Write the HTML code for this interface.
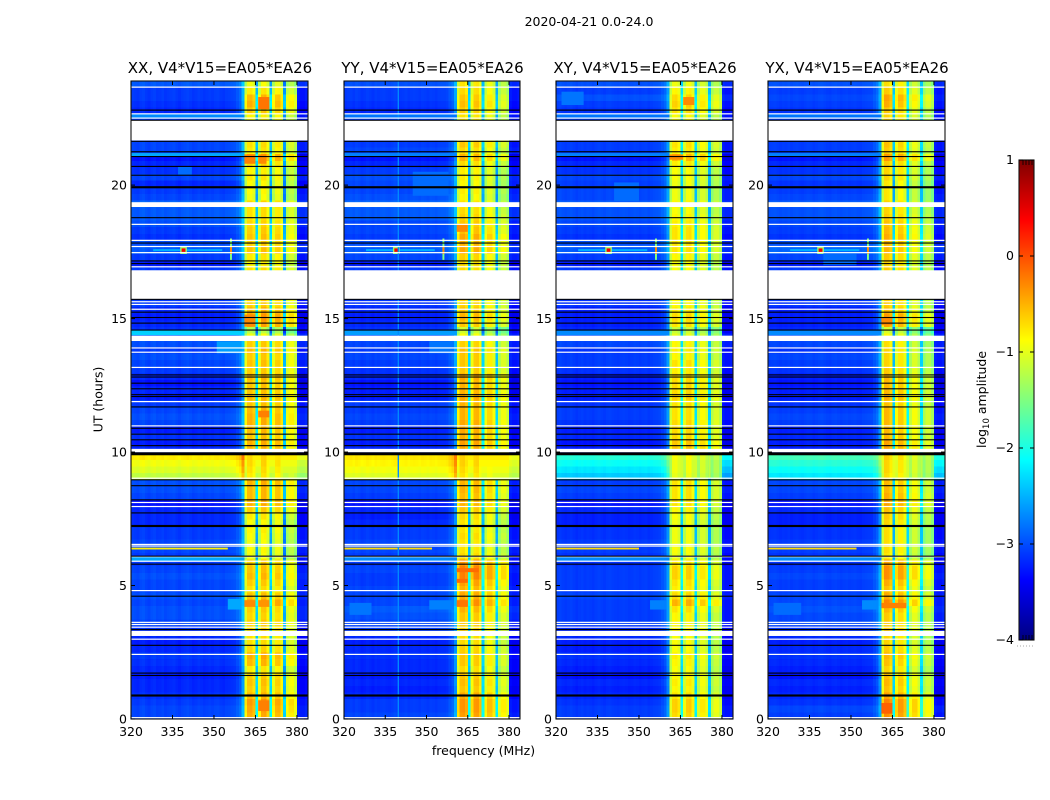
<!DOCTYPE html>
<html lang="en">
<head>
<meta charset="utf-8">
<title>2020-04-21 0.0-24.0 waterfall</title>
<style>
html,body{margin:0;padding:0;background:#fff;}
svg{display:block;font-family:"DejaVu Sans","Liberation Sans",sans-serif;fill:#000;}
text{font-size:12.5px;}
</style>
</head>
<body>
<svg id="figure" xmlns="http://www.w3.org/2000/svg" width="1050" height="800" viewBox="0 0 1050 800">
  <rect x="0" y="0" width="1050" height="800" fill="#fff"/>
  <text x="589" y="26" text-anchor="middle">2020-04-21 0.0-24.0</text>
  <text x="483.500" y="755" text-anchor="middle">frequency (MHz)</text>
  <text transform="translate(102.500,399.500) rotate(-90)" text-anchor="middle">UT (hours)</text>
  <text transform="translate(986,399.500) rotate(-90)" text-anchor="middle">log<tspan dy="3" style="font-size:8.5px">10</tspan><tspan dy="-3"> amplitude</tspan></text>
  <g id="panels"></g>
  <g id="colorbar"></g>
</svg>
<script>
// ---------- chart data (hours, MHz, log10 amplitude) ----------
const panelTitles = ["XX, V4*V15=EA05*EA26", "YY, V4*V15=EA05*EA26", "XY, V4*V15=EA05*EA26", "YX, V4*V15=EA05*EA26"];
const freqTickLabels = [320, 335, 350, 365, 380];
const hourTickLabels = [0, 5, 10, 15, 20];
const colorTickValues = [1, 0, -1, -2, -3, -4];
const freqDomain = [320, 384];
const hourDomain = [0, 23.9];
const colorDomain = [-4, 1];
const rfiBandMHz = [361, 380];

// Amplitude by quarter-hour row (index 0 = 00:00), quiet part of the spectrum.
const quietRowsXX = [
-3.05,-3.05,-3.1,-3.15, -3.2,-3.2,-3.25,-3.2, -3.15,-3.1,-3.2,-3.25, -3.2,-3.15,-3.05,-3.0,
-3.0,-3.05,-3.0,-3.05, -3.05,-3.0,-3.05,-3.1, -3.1,-3.05,-3.05,-3.1, -3.1,-3.2,-3.2,-3.2,
-3.3,-3.05,-3.0,-3.0, -1.2,-1.05,-0.95,-0.8, -3.2,-3.25,-3.15,-3.25, -3.05,-3.0,-3.05,-3.1,
-3.25,-3.2,-3.3,-3.2, -3.1,-3.05,-3.0,-3.1, -3.0,-3.0,-3.15,-3.2, -3.25,-3.2,-3.1,-3.1,
-3.1,-3.1,-3.1,-3.1, -3.25,-3.1,-2.95,-3.0, -3.15,-3.1,-3.0,-2.95, -2.95,-2.9,-3.05,-3.1,
-3.2,-3.05,-3.15,-3.2, -3.3,-3.05,-3.05,-3.1, -3.1,-3.1,-3.1,-3.2, -3.15,-3.1,-3.1,-2.95];
const quietRowsYY = [
-3.05,-3.1,-3.1,-3.2, -3.25,-3.2,-3.25,-3.2, -3.2,-3.15,-3.2,-3.25, -3.2,-3.1,-3.05,-3.0,
-2.95,-3.05,-3.05,-3.05, -3.1,-3.1,-3.05,-3.1, -3.1,-3.05,-3.05,-3.1, -3.1,-3.2,-3.25,-3.2,
-3.3,-3.1,-3.05,-3.05, -1.05,-0.95,-0.85,-0.78, -3.2,-3.25,-3.15,-3.25, -3.1,-3.05,-3.1,-3.1,
-3.25,-3.25,-3.3,-3.2, -3.15,-3.1,-3.05,-3.1, -3.05,-3.05,-3.15,-3.2, -3.25,-3.2,-3.15,-3.1,
-3.1,-3.1,-3.1,-3.1, -3.25,-3.05,-2.95,-3.0, -3.1,-3.05,-3.05,-2.95, -2.95,-2.9,-3.0,-3.05,
-3.05,-3.0,-3.1,-3.2, -3.3,-3.05,-3.1,-3.1, -3.1,-3.1,-3.1,-3.2, -3.15,-3.1,-3.1,-3.0];
const quietRowsXY = [
-3.1,-3.1,-3.15,-3.2, -3.25,-3.2,-3.3,-3.25, -3.2,-3.15,-3.25,-3.25, -3.2,-3.2,-3.1,-3.1,
-3.1,-3.1,-3.05,-3.1, -3.1,-3.1,-3.1,-3.15, -3.15,-3.1,-3.1,-3.15, -3.15,-3.25,-3.25,-3.2,
-3.3,-3.1,-3.05,-3.1, -2.4,-2.25,-2.1,-1.95, -3.25,-3.3,-3.2,-3.25, -3.15,-3.1,-3.1,-3.15,
-3.25,-3.25,-3.3,-3.25, -3.15,-3.1,-3.1,-3.15, -3.05,-3.05,-3.2,-3.25, -3.25,-3.25,-3.15,-3.15,
-3.1,-3.1,-3.1,-3.1, -3.25,-3.1,-2.95,-3.0, -3.15,-3.1,-3.05,-3.0, -3.0,-2.95,-3.05,-3.05,
-3.1,-3.05,-3.15,-3.2, -3.3,-3.1,-3.1,-3.1, -3.1,-3.1,-3.1,-3.15, -3.1,-3.0,-3.1,-3.0];
const quietRowsYX = [
-3.1,-3.05,-3.15,-3.2, -3.25,-3.2,-3.3,-3.25, -3.2,-3.15,-3.2,-3.25, -3.2,-3.15,-3.05,-3.05,
-3.0,-3.05,-3.05,-3.1, -3.1,-3.05,-3.1,-3.15, -3.15,-3.1,-3.1,-3.15, -3.15,-3.25,-3.25,-3.2,
-3.3,-3.1,-3.05,-3.05, -2.25,-2.1,-1.95,-1.8, -3.25,-3.25,-3.2,-3.25, -3.1,-3.05,-3.1,-3.15,
-3.25,-3.25,-3.3,-3.25, -3.15,-3.1,-3.05,-3.15, -3.05,-3.05,-3.2,-3.25, -3.25,-3.25,-3.15,-3.1,
-3.1,-3.1,-3.1,-3.1, -3.25,-3.05,-2.9,-3.0, -3.15,-3.1,-3.05,-3.0, -3.0,-2.95,-3.05,-3.1,
-3.15,-3.05,-3.15,-3.2, -3.3,-3.1,-3.1,-3.1, -3.1,-3.1,-3.1,-3.15, -3.1,-3.05,-3.1,-3.0];

// Amplitude by quarter-hour row inside the bright 361-380 MHz band.
const bandRowsXX = [
-.55,-.5,-.45,-.6, -.7,-.65,-.7,-.85, -.6,-.55,-.75,-.8, -.8,-.75,-.7,-.75,
-.7,-.45,-.65,-.8, -.7,-.6,-.65,-.7, -1.0,-.95,-1.0,-.95, -.9,-.95,-.85,-.7,
-.55,-.6,-.6,-.55, -.85,-.8,-.75,-.75, -.6,-.55,-.65,-.6, -.55,-.55,-.6,-.65,
-.6,-.65,-.65,-.6, -.7,-.65,-.7,-.6, -.7,-1.0,-1.3,-.5, -.45,-.6,-.7,-.7,
-.8,-.8,-.8,-.8, -.9,-.85,-.65,-.7, -.65,-.7,-.75,-.8, -.8,-.75,-1.0,-.95,
-.95,-.85,-.9,-.75, -.5,-.85,-.8,-.8, -.8,-.85,-.9,-.7, -.55,-.6,-.85,-1.0];
const bandRowsYY = [
-.5,-.45,-.45,-.55, -.7,-.65,-.7,-.8, -.7,-.7,-.75,-.8, -.8,-.75,-.7,-.7,
-.6,-.4,-.55,-.6, -.5,-.35,-.35,-.45, -.8,-.85,-.85,-.8, -.85,-.85,-.8,-.7,
-.6,-.65,-.6,-.6, -.85,-.8,-.75,-.75, -.55,-.5,-.6,-.55, -.55,-.6,-.6,-.6,
-.55,-.6,-.6,-.55, -.7,-.7,-.7,-.65, -.75,-1.0,-1.2,-.7, -.6,-.7,-.75,-.75,
-.8,-.8,-.8,-.8, -.8,-.75,-.55,-.6, -.55,-.65,-.7,-.75, -.8,-.85,-.95,-.9,
-.95,-.9,-.9,-.8, -.6,-.8,-.7,-.7, -.8,-.85,-.85,-.75, -.65,-.7,-.8,-.85];
const bandRowsXY = [
-.8,-.75,-.75,-.85, -.95,-.9,-.95,-1.0, -.95,-.9,-1.0,-1.0, -1.0,-.95,-.95,-.95,
-.85,-.6,-.8,-.9, -.85,-.75,-.75,-.85, -1.05,-1.0,-1.05,-1.05, -1.05,-1.05,-1.0,-.95,
-.85,-.85,-.85,-.85, -1.1,-1.05,-1.05,-1.0, -.7,-.7,-.8,-.8, -.8,-.85,-.85,-.85,
-.75,-.8,-.8,-.8, -.9,-.85,-.95,-.9, -.95,-1.1,-1.25,-.85, -.8,-.9,-.95,-.95,
-1.0,-1.0,-1.0,-1.0, -1.0,-.95,-.85,-.85, -.85,-.85,-.9,-.95, -1.0,-.95,-1.05,-1.05,
-1.05,-1.0,-1.0,-.9, -.65,-.9,-.85,-.85, -.9,-.95,-1.0,-.85, -.75,-.8,-.95,-1.05];
const bandRowsYX = [
-.5,-.45,-.45,-.6, -.75,-.7,-.75,-.85, -.75,-.7,-.8,-.85, -.85,-.8,-.8,-.8,
-.7,-.45,-.65,-.75, -.65,-.5,-.5,-.6, -.95,-.9,-.9,-.9, -.9,-.85,-.8,-.75,
-.6,-.65,-.7,-.7, -.9,-.85,-.85,-.8, -.6,-.6,-.7,-.7, -.7,-.7,-.7,-.75,
-.65,-.7,-.7,-.7, -.8,-.85,-.85,-.85, -.9,-1.05,-1.25,-.6, -.55,-.75,-.8,-.8,
-.8,-.8,-.8,-.8, -.85,-.8,-.7,-.7, -.65,-.7,-.75,-.8, -.85,-.85,-.95,-.95,
-.95,-.85,-.85,-.8, -.55,-.8,-.75,-.75, -.8,-.85,-.85,-.8, -.65,-.6,-.8,-.9];

// Per-channel offsets (1 MHz channels, 320-384 MHz).
const spectrumXX = [.02,0,-.02,.03,.05,0,-.03,.02,.04,-.01,0,.03,-.02,0,.02,.04,0,-.03,.01,.03,.05,.02,-.02,0,.03,.01,-.02,0,.02,0,.03,.04,0,-.02,.02,.03,.05,.07,.15,.25,.6,
-.3,.05,.08,-.05,-1.6,-.3,.1,.12,-.1,-1.6,-.3,0,.02,-.2,-1.8,-.4,-.25,-.25,-.45,-.15,-.2,-.2,-.15];
const spectrumYY = [0,.02,.03,0,.04,.02,-.02,0,.03,.01,-.02,.02,0,.02,.03,.01,0,.02,.05,.03,0,.01,.03,0,.02,.03,.02,0,.03,.02,0,.03,.02,0,.03,.04,.04,.06,.15,.25,.55,
-.25,.1,.12,0,-1.6,-.25,.08,.1,-.1,-1.6,-.35,-.1,-.1,-.3,-1.7,-.55,-.35,-.35,-.55,-.15,-.2,-.2,-.15];
const spectrumXY = [.03,.05,.02,0,.02,.04,.01,-.02,.01,.03,0,.02,.01,-.01,.02,.04,.02,0,.03,.04,.02,.01,0,.02,.03,.02,0,.01,.03,.02,0,.02,.03,0,.02,.04,.05,.07,.14,.22,.5,
-.25,.1,.12,0,-1.3,-.2,.12,.15,-.05,-1.4,-.3,-.02,-.02,-.2,-1.5,-.4,-.2,-.2,-.4,-.15,-.2,-.2,-.15];
const spectrumYX = [.02,.03,.04,.02,0,.02,.01,.03,0,.02,.03,.01,0,.02,.04,.03,0,.02,.04,.05,.03,.01,0,.03,.04,.02,0,.02,.03,.01,.02,.03,.01,0,.03,.04,.05,.06,.14,.24,.55,
-.2,.2,.18,.05,-1.6,-.2,.08,.08,-.12,-1.4,-.45,-.2,-.2,-.4,-1.5,-.6,-.4,-.4,-.6,-.15,-.2,-.2,-.15];

const quietRowsByPanel = [quietRowsXX, quietRowsYY, quietRowsXY, quietRowsYX];
const bandRowsByPanel = [bandRowsXX, bandRowsYY, bandRowsXY, bandRowsYX];
const spectrumByPanel = [spectrumXX, spectrumYY, spectrumXY, spectrumYX];

// Localised features: [panel (-1 = all), startHour, endHour, startMHz, endMHz, log10 amplitude]
const features = [
[0,14.38,14.57,320,361,-2.35],[1,14.38,14.57,320,361,-2.6],[2,14.38,14.57,320,361,-2.7],[3,14.38,14.57,320,361,-2.7],
[0,21.08,21.2,320,361,-2.55],[1,21.08,21.2,320,361,-2.75],[2,21.08,21.2,320,361,-2.75],[3,21.08,21.2,320,361,-2.75],
[0,5.91,6.08,320,361,-2.55],[1,5.91,6.08,320,361,-2.7],[2,5.91,6.08,320,361,-2.7],[3,5.91,6.08,320,361,-2.7],
[0,22.51,22.66,320,361,-2.7],[1,22.51,22.66,320,361,-2.8],[2,22.51,22.66,320,361,-2.8],[3,22.51,22.66,320,361,-2.8],
[-1,17.53,17.6,328,353,-2.5],[-1,17.42,17.72,337.8,340.2,-1.4],[-1,17.5,17.63,338.3,339.7,0.4],
[-1,17.2,18.0,355.8,356.5,-1.5],[-1,17.42,17.68,355.8,356.5,-0.3],
[0,6.35,6.42,320,355,-0.8],[1,6.35,6.42,320,352,-0.7],[2,6.35,6.42,320,350,-0.7],[3,6.35,6.42,320,352,-0.7],
[0,4.1,4.5,355,360,-2.55],[1,4.1,4.45,351,360,-2.75],[2,4.1,4.45,354,360,-2.75],[3,4.1,4.45,354,360,-2.7],
[1,3.9,4.35,322,330,-2.8],[3,3.9,4.35,322,332,-2.85],
[1,19.6,20.5,345,358,-2.85],[2,19.4,20.1,341,350,-2.85],[0,20.35,20.7,337,342,-2.85],[2,23,23.5,322,330,-2.8],
[3,17,17.45,340,352,-2.85],[0,13.7,14.15,351,360,-2.6],[1,13.7,14.15,351,360,-2.8],
[0,22.85,23.3,366,370,-.2],[0,20.8,21.15,361,365,-.25],[0,20.8,21.15,366,369,-.3],[0,14.7,15.15,361,365,-.3],
[0,4.2,4.45,361,365,-.3],[0,4.2,4.45,366,370,-.35],[0,.3,.7,366,370,-.25],[0,11.3,11.55,366,370,-.25],
[1,5.1,5.25,361,365,-.15],[1,5.5,5.65,361,369,-.15],[1,4.2,4.45,361,365,-.2],[1,18.25,18.55,361,365,-.3],
[3,.2,.6,361,365,-.1],[3,4.15,4.35,361,370,-.25],[3,14.75,15.05,361,365,-.3],[2,20.95,21.15,361,366,-.3],[2,23.0,23.3,366,370,-.3],
[2,9.02,9.88,365,366,-1.1],[2,9.02,9.88,370,371,-1.1],[2,9.02,9.88,375,376,-1.2],
[3,9.02,9.88,365,366,-1.0],[3,9.02,9.88,370,371,-1.1],[3,9.02,9.88,375,376,-1.2],
[1,0,23.9,339.5,340,-2.7]
];

// Rows with no data, drawn white: [startHour, endHour]
const blankRanges = [[22.42,21.67],[19.36,19.18],[16.81,15.73],[14.36,14.16],[10.12,9.99],[3.30,3.11]];
const blankLines = [23.67,22.67,22.51,18.53,17.93,17.70,17.47,16.94,15.63,15.53,15.35,13.90,13.74,13.17,11.89,10.98,9.02,8.11,7.96,6.54,6.48,6.08,5.91,4.81,3.62,3.54,3.44,2.99,2.42,0.05];
// Flagged rows, drawn black.
const flaggedRanges = [[9.99,9.88],[19.96,19.88],[7.27,7.19],[0.92,0.84]];
const flaggedLines = [22.81,22.43,21.64,21.25,21.07,20.70,20.37,18.78,17.83,17.16,17.06,15.72,15.24,15.04,14.83,14.57,12.89,12.81,12.58,12.37,12.15,12.08,11.69,10.89,10.67,10.46,10.24,8.96,8.74,8.21,7.72,6.10,5.80,4.60,3.35,2.76,1.72,1.63];

// ---------- layout and scales ----------
const NS = "http://www.w3.org/2000/svg";
const panelLeft = [131, 344, 556, 768];
const panelRight = [308, 520, 733, 945];
const plotTop = 81, plotBottom = 719;
const cbLeft = 1019, cbRight = 1034, cbTop = 160, cbBottom = 640;

function xScale(p, f) { return panelLeft[p] + (f - freqDomain[0]) / (freqDomain[1] - freqDomain[0]) * (panelRight[p] - panelLeft[p]); }
function yScale(h) { return plotBottom - (h - hourDomain[0]) / (hourDomain[1] - hourDomain[0]) * (plotBottom - plotTop); }
function cbScale(v) { return cbBottom - (v - colorDomain[0]) / (colorDomain[1] - colorDomain[0]) * (cbBottom - cbTop); }
function jet(v) {
  const t = Math.max(0, Math.min(1, (v - colorDomain[0]) / (colorDomain[1] - colorDomain[0])));
  const ch = k => Math.round(255 * Math.max(0, Math.min(1, 1.5 - Math.abs(4 * t - k))));
  return "rgb(" + ch(3) + "," + ch(2) + "," + ch(1) + ")";
}
function make(parent, tag, props) {
  const el = document.createElementNS(NS, tag);
  for (const k in props) el.setAttribute(k, props[k]);
  parent.appendChild(el);
  return el;
}
function cellValue(p, r, c) {
  const f = freqDomain[0] + c;
  const quiet = quietRowsByPanel[p][r];
  if (f >= rfiBandMHz[0] && f < rfiBandMHz[1]) {
    return Math.max(quiet, spectrumByPanel[p][c] + bandRowsByPanel[p][r]);
  }
  return quiet + spectrumByPanel[p][c];
}

const panelsGroup = document.getElementById("panels");
panelTitles.forEach(function (title, p) {
  const panel = make(panelsGroup, "g", {});
  
  

  const heat = make(panel, "g", { "shape-rendering": "crispEdges" });
  
  
  const rowCount = quietRowsByPanel[p].length;
  const rowSpan = (hourDomain[1] - hourDomain[0]) / rowCount;
  const channelCount = spectrumByPanel[p].length;
  for (let r = 0; r < rowCount; r++) {
    const yTop = yScale((r + 1) * rowSpan), yBot = yScale(r * rowSpan);
    for (let c = 0; c < channelCount; c++) {
      const x0 = xScale(p, freqDomain[0] + c), x1 = xScale(p, freqDomain[0] + c + 1);
      const cell = make(heat, "rect", { x: x0, y: yTop, width: x1 - x0, height: yBot - yTop, fill: jet(cellValue(p, r, c)) });
      
      
    }
  }

  features.forEach(function (ft) {
    if (ft[0] !== -1 && ft[0] !== p) return;
    const x0 = xScale(p, ft[3]), x1 = xScale(p, ft[4]);
    const rect = make(panel, "rect", { x: x0, y: yScale(ft[2]), width: x1 - x0, height: yScale(ft[1]) - yScale(ft[2]), fill: jet(ft[5]) });
    
    
  });

  const bandWidth = panelRight[p] - panelLeft[p];
  blankRanges.forEach(function (g) {
    const a = yScale(Math.max(g[0], g[1])), b = yScale(Math.min(g[0], g[1]));
    const rect = make(panel, "rect", { x: panelLeft[p], y: a, width: bandWidth, height: b - a, fill: "#fff" });
    
    
  });
  blankLines.forEach(function (h) {
    const rect = make(panel, "rect", { x: panelLeft[p], y: yScale(h) - 0.6, width: bandWidth, height: 1.2, fill: "#fff" });
    
    
  });
  flaggedRanges.forEach(function (g) {
    const a = yScale(Math.max(g[0], g[1])), b = yScale(Math.min(g[0], g[1]));
    const rect = make(panel, "rect", { x: panelLeft[p], y: a, width: bandWidth, height: b - a, fill: "#000" });
    
    
  });
  flaggedLines.forEach(function (h) {
    const rect = make(panel, "rect", { x: panelLeft[p], y: yScale(h) - 0.55, width: bandWidth, height: 1.1, fill: "#000" });
    
    
  });

  const frame = make(panel, "rect", { x: panelLeft[p], y: plotTop, width: bandWidth, height: plotBottom - plotTop, fill: "none", stroke: "#111", "stroke-width": 1.1 });
  
  

  const titleText = make(panel, "text", { x: (panelLeft[p] + panelRight[p]) / 2 + 0.5, y: 73, "text-anchor": "middle", style: "font-size:15px" });
  titleText.textContent = title;
  
  

  freqTickLabels.forEach(function (f) {
    const x = xScale(p, f);
    const low = make(panel, "line", { x1: x, x2: x, y1: plotBottom, y2: plotBottom - 4, stroke: "#000", "stroke-width": 1 });
    
    
    const high = make(panel, "line", { x1: x, x2: x, y1: plotTop, y2: plotTop + 4, stroke: "#000", "stroke-width": 1 });
    
    
    const label = make(panel, "text", { x: x, y: 736, "text-anchor": "middle" });
    label.textContent = f;
    
    
  });
  hourTickLabels.forEach(function (h) {
    const y = yScale(h);
    const left = make(panel, "line", { x1: panelLeft[p], x2: panelLeft[p] + 4, y1: y, y2: y, stroke: "#000", "stroke-width": 1 });
    
    
    const right = make(panel, "line", { x1: panelRight[p], x2: panelRight[p] - 4, y1: y, y2: y, stroke: "#000", "stroke-width": 1 });
    
    
    const label = make(panel, "text", { x: panelLeft[p] - 4, y: y + 4.5, "text-anchor": "end" });
    label.textContent = h;
    
    
  });
});

// ---------- colorbar ----------
const cb = document.getElementById("colorbar");
const cbStrip = make(cb, "g", { "shape-rendering": "crispEdges" });


for (let y = cbTop; y < cbBottom; y++) {
  const v = colorDomain[1] - (y + 0.5 - cbTop) / (cbBottom - cbTop) * (colorDomain[1] - colorDomain[0]);
  const step = make(cbStrip, "rect", { x: cbLeft, y: y, width: cbRight - cbLeft, height: 1, fill: jet(v) });
  
  
}
const cbFrame = make(cb, "rect", { x: cbLeft, y: cbTop, width: cbRight - cbLeft, height: cbBottom - cbTop, fill: "none", stroke: "#111", "stroke-width": 1.1 });


colorTickValues.forEach(function (v) {
  const y = cbScale(v);
  const left = make(cb, "line", { x1: cbLeft, x2: cbLeft + 4, y1: y, y2: y, stroke: "#000", "stroke-width": 1 });
  
  
  const right = make(cb, "line", { x1: cbRight, x2: cbRight - 4, y1: y, y2: y, stroke: "#000", "stroke-width": 1 });
  
  
  const label = make(cb, "text", { x: 1014, y: y + 4, "text-anchor": "end" });
  label.textContent = (v < 0 ? "\u2212" : "") + Math.abs(v);
  
  
});
[1023, 1026, 1029, 1032].forEach(function (x) {
  const t = make(cb, "line", { x1: x, x2: x, y1: cbTop, y2: cbTop + 5, stroke: "#000", "stroke-width": 0.8 });
  
  
  const b = make(cb, "line", { x1: x, x2: x, y1: cbBottom, y2: cbBottom - 5, stroke: "#000", "stroke-width": 0.8 });
  
  
});
const dots = make(cb, "line", { x1: 1017, x2: 1035, y1: 646, y2: 646, stroke: "#aaa", "stroke-width": 1, "stroke-dasharray": "1 2" });


</script>
</body>
</html>
